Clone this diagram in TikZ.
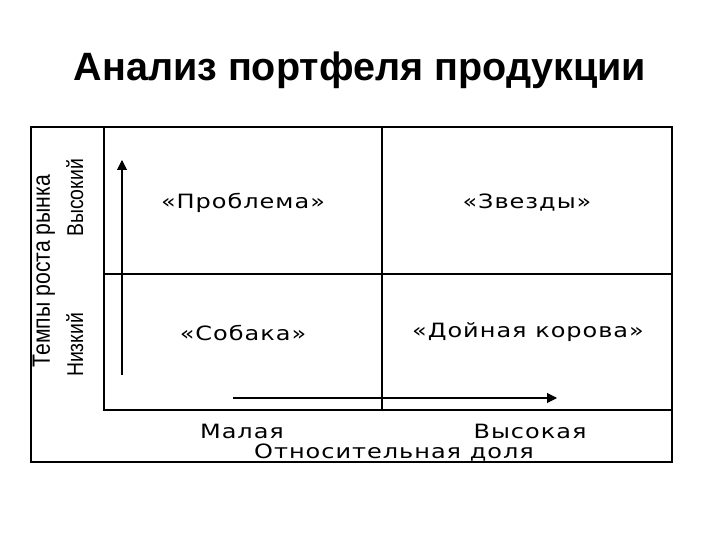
\documentclass[tikz,border=0pt]{standalone}
\usepackage{fontspec}
\setmainfont{DejaVu Sans}
\newfontfamily\titlefont{Liberation Sans}
\newfontfamily\cellfont[FakeStretch=1.22,LetterSpace=5]{DejaVu Sans}
\newfontfamily\sidefont[FakeStretch=0.85]{Liberation Sans}
\usetikzlibrary{arrows.meta}
\begin{document}
\begin{tikzpicture}[x=0.02cm,y=-0.02cm,%
% common options for the grid lines:
frame/.style = {draw, line width=1.1pt},
% common options for the axis arrows:
axisarrow/.style = {line width=0.6pt, -{Triangle[length=2mm,width=2mm]}},
% common options for the texts:
heading/.style = {font=\titlefont\fontsize{22.5}{25}\bfseries, inner sep=0},
cell/.style = {font=\cellfont\fontsize{11.2}{13}\selectfont, inner sep=0},
side/.style = {font=\sidefont\fontsize{14.2}{16}\selectfont, rotate=90, anchor=base, inner sep=0}]
\fill[white] (0,0) rectangle (720,540);
\useasboundingbox (0,0) rectangle (720,540);
\node[heading] (title) at (360,70) {Анализ портфеля продукции};
% outer frame and the four cells
\draw[frame] (31,127) rectangle (672,462);
\draw[frame] (104,127) rectangle (672,410);
\draw[frame] (382,127) -- (382,410);
\draw[frame] (104,274) -- (672,274);
\node[cell] (problem) at (243,203) {«Проблема»};
\node[cell] (stars) at (527,203) {«Звезды»};
\node[cell] (dog) at (243,333) {«Собака»};
\node[cell] (cow) at (528,332) {«Дойная корова»};
% axes
\coordinate (ytail) at (122,375);
\coordinate (yhead) at (122,160);
\coordinate (xtail) at (233,398);
\coordinate (xhead) at (557,398);
\draw[axisarrow] (ytail) -- (yhead);
\draw[axisarrow] (xtail) -- (xhead);
\node[cell] (lowshare) at (242,431) {Малая};
\node[cell] (highshare) at (530,431) {Высокая};
\node[cell] (share) at (394,453) {Относительная доля};
\node[side] (growth) at (50,271) {Темпы роста рынка};
\node[side,font=\sidefont\fontsize{13}{15}\selectfont] (highgrowth) at (83,198) {Высокий};
\node[side,font=\sidefont\fontsize{13}{15}\selectfont] (lowgrowth) at (83,345) {Низкий};
\end{tikzpicture}
\end{document}
